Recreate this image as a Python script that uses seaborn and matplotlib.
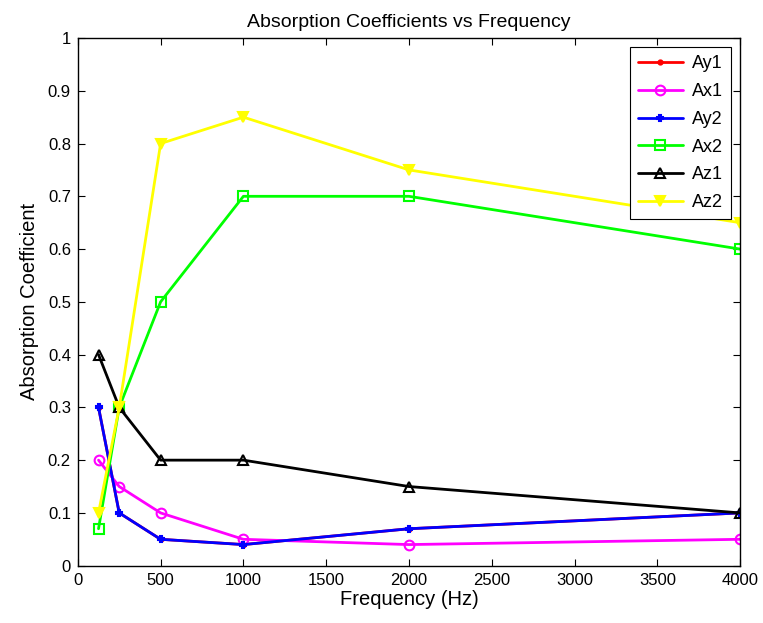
import matplotlib
matplotlib.use("Agg")
import matplotlib.pyplot as plt
import seaborn as sns
import pandas as pd

freq = [125, 250, 500, 1000, 2000, 4000]
Ay1 = [0.3, 0.1, 0.05, 0.04, 0.07, 0.1]
Ax1 = [0.2, 0.15, 0.1, 0.05, 0.04, 0.05]
Ay2 = [0.3, 0.1, 0.05, 0.04, 0.07, 0.1]
Ax2 = [0.07, 0.3, 0.5, 0.7, 0.7, 0.6]
Az1 = [0.4, 0.3, 0.2, 0.2, 0.15, 0.1]
Az2 = [0.1, 0.3, 0.8, 0.85, 0.75, 0.65]

series = [
    ("Ay1", Ay1, "#ff0000", ".", "#ff0000"),
    ("Ax1", Ax1, "#ff00ff", "o", "none"),
    ("Ay2", Ay2, "#0000ff", "P", "#0000ff"),
    ("Ax2", Ax2, "#00ff00", "s", "none"),
    ("Az1", Az1, "#000000", "^", "none"),
    ("Az2", Az2, "#ffff00", "v", "#ffff00"),
]

sns.set_style("white")
plt.rcParams['font.family'] = ['Liberation Sans', 'DejaVu Sans']
plt.rcParams['text.color'] = 'black'
plt.rcParams['axes.labelcolor'] = 'black'
plt.rcParams['xtick.color'] = 'black'
plt.rcParams['ytick.color'] = 'black'

fig = plt.figure(figsize=(7.63, 6.23), dpi=100)
ax = fig.add_axes([0.102, 0.092, 0.868, 0.847])

for name, vals, col, mk, fc in series:
    df = pd.DataFrame({"Frequency": freq, "Value": vals})
    ms = 7
    if mk == "P":
        ms = 5
    if mk == ".":
        ms = 6
    sns.lineplot(data=df, x="Frequency", y="Value", ax=ax, color=col, marker=mk,
                 markerfacecolor=fc, markeredgecolor=col, markersize=ms,
                 markeredgewidth=1.5, linewidth=2, label=name)

ax.set_xlim(0, 4000)
ax.set_ylim(0, 1)
ax.set_xticks(range(0, 4001, 500))
ax.set_yticks([i / 10 for i in range(11)])
ax.set_yticklabels(["0", "0.1", "0.2", "0.3", "0.4", "0.5", "0.6", "0.7", "0.8", "0.9", "1"])
ax.tick_params(direction="in", length=5, labelsize=12, top=True, right=True,
               bottom=True, left=True, width=0.8, pad=5)
for sp in ax.spines.values():
    sp.set_visible(True)
    sp.set_color("black")
    sp.set_linewidth(1.0)
ax.set_xlabel("Frequency (Hz)", fontsize=14.5, labelpad=2)
ax.set_ylabel("Absorption Coefficient", fontsize=14.5, labelpad=6)
ax.set_title("Absorption Coefficients vs Frequency", fontsize=14, pad=8)

leg = ax.legend(loc="upper right", fontsize=13, frameon=True, fancybox=False,
                borderaxespad=0.5, handlelength=2.5, labelspacing=0.6, borderpad=0.45,
                handletextpad=0.5)
leg.get_frame().set_edgecolor("black")
leg.get_frame().set_linewidth(0.8)
leg.get_frame().set_alpha(1)

fig.savefig("out.png", dpi=100, facecolor="white")
